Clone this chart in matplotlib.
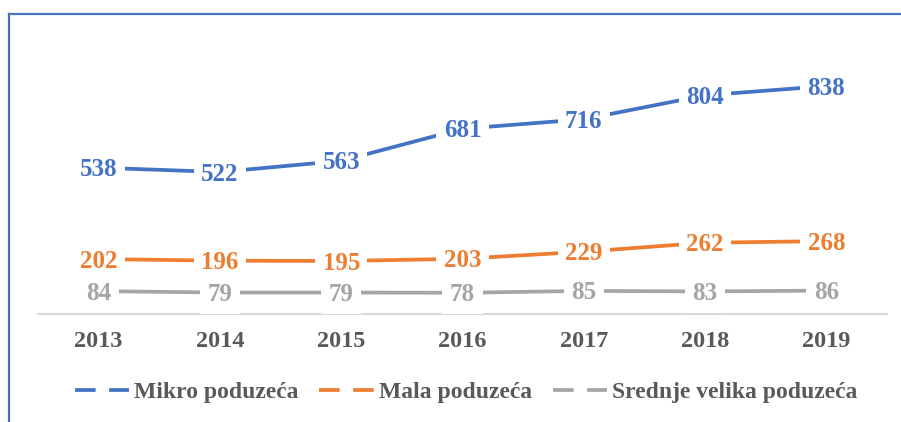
import matplotlib.pyplot as plt
from matplotlib.lines import Line2D

# podaci
godine = ['2013', '2014', '2015', '2016', '2017', '2018', '2019']
mikro = [538, 522, 563, 681, 716, 804, 838]
mala = [202, 196, 195, 203, 229, 262, 268]
srednje = [84, 79, 79, 78, 85, 83, 86]

nazivi = ['Mikro poduzeća', 'Mala poduzeća', 'Srednje velika poduzeća']
boje = ['#4472C4', '#ED7D31', '#A5A5A5']

plt.rcParams['font.family'] = ['Liberation Serif', 'DejaVu Serif']

fig = plt.figure(figsize=(9.01, 4.22), dpi=100)
ax = fig.add_axes([38 / 901, 108 / 422, 849 / 901, 272 / 422])

x = list(range(len(godine)))
for serija, boja in zip([mikro, mala, srednje], boje):
    ax.plot(x, serija, color=boja, linewidth=2.7, solid_capstyle='butt', zorder=2)
    for xi, v in zip(x, serija):
        ax.annotate(str(v), (xi, v), xytext=(0, -1.5), textcoords='offset points',
                    color=boja, fontsize=18, fontweight='bold',
                    ha='center', va='center', zorder=4, annotation_clip=False,
                    bbox=dict(boxstyle='square,pad=0.3', fc='white', ec='none'))

ax.set_xlim(-0.5, len(godine) - 0.5)
ax.set_ylim(0, 1000)
ax.set_xticks(x)
ax.set_xticklabels(godine, fontsize=17.5, fontweight='bold', color='#595959')
ax.set_yticks([])
ax.tick_params(axis='x', length=0, pad=12)
for s in ['top', 'right', 'left']:
    ax.spines[s].set_visible(False)
ax.spines['bottom'].set_color('#D9D9D9')
ax.spines['bottom'].set_linewidth(1.5)
ax.spines['bottom'].set_zorder(1)

# legenda s isprekidanim linijama
ruke = [Line2D([], [], color=b, linewidth=2.7, linestyle=(0, (5.5, 3.6)))
        for b in boje]
leg = fig.legend(ruke, nazivi, loc='center', bbox_to_anchor=(466 / 901, 1 - 392 / 422),
                 ncol=3, frameon=False, handlelength=2.3, handletextpad=0.2,
                 columnspacing=0.9, prop={'size': 17, 'weight': 'bold'})
for t in leg.get_texts():
    t.set_color('#595959')

# okvir
fig.add_artist(Line2D([8.5 / 901, 8.5 / 901], [0, 1 - 13.5 / 422], color='#4472C4', linewidth=1.6))
fig.add_artist(Line2D([8.5 / 901, 1], [1 - 13.5 / 422, 1 - 13.5 / 422], color='#4472C4', linewidth=1.6))

fig.savefig('out.png', dpi=100)
